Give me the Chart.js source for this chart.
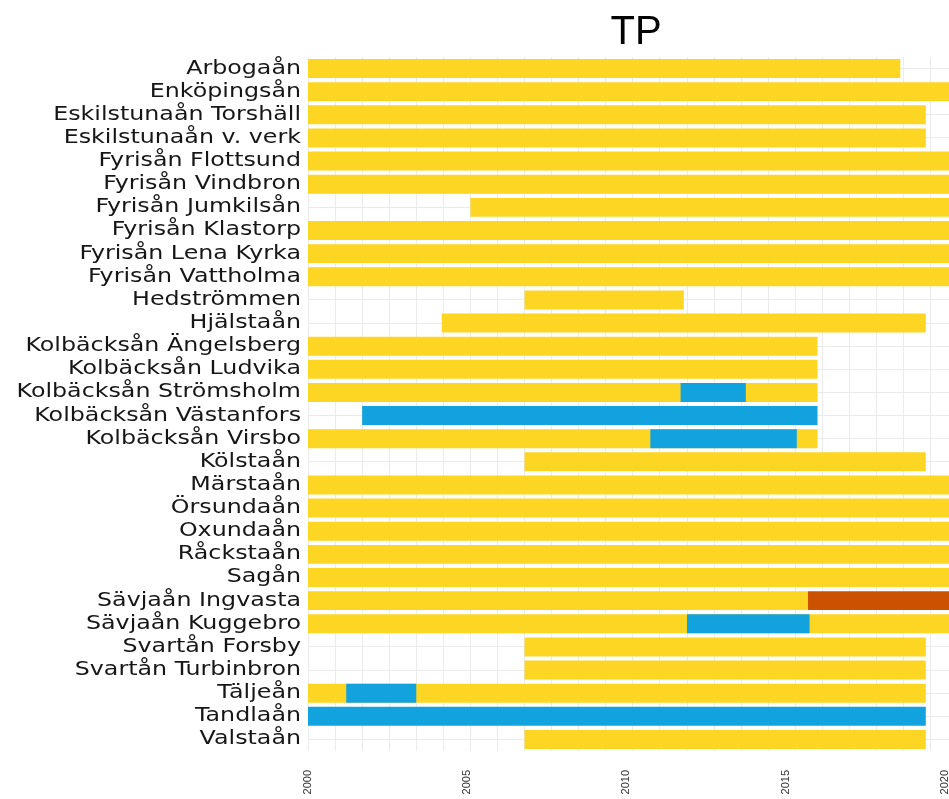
<!DOCTYPE html>
<html>
<head>
<meta charset="utf-8">
<script src="https://cdn.jsdelivr.net/npm/chart.js@4/dist/chart.umd.min.js"></script>
<style>
  html, body { margin: 0; padding: 0; background: #ffffff; overflow: hidden; }
  #wrap { width: 990px; height: 799px; }
</style>
</head>
<body>
<div id="wrap"><canvas id="c" width="990" height="799"></canvas></div>
<script>
// Monitoring stations (top to bottom)
const stations = [
  'Arbogaån', 'Enköpingsån', 'Eskilstunaån Torshäll', 'Eskilstunaån v. verk',
  'Fyrisån Flottsund', 'Fyrisån Vindbron', 'Fyrisån Jumkilsån', 'Fyrisån Klastorp',
  'Fyrisån Lena Kyrka', 'Fyrisån Vattholma', 'Hedströmmen', 'Hjälstaån',
  'Kolbäcksån Ängelsberg', 'Kolbäcksån Ludvika', 'Kolbäcksån Strömsholm',
  'Kolbäcksån Västanfors', 'Kolbäcksån Virsbo', 'Kölstaån', 'Märstaån',
  'Örsundaån', 'Oxundaån', 'Råckstaån', 'Sagån', 'Sävjaån Ingvasta',
  'Sävjaån Kuggebro', 'Svartån Forsby', 'Svartån Turbinbron', 'Täljeån',
  'Tandlaån', 'Valstaån'
];

// Yellow periods (start / end year, null = none)
const yellowStart = [2000, 2000, 2000, 2000, 2000, 2000, 2005.1, 2000, 2000, 2000,
  2006.8, 2004.2, 2000, 2000, 2000, null, 2000, 2006.8, 2000, 2000,
  2000, 2000, 2000, 2000, 2000, 2006.8, 2006.8, 2000, null, 2006.8];
const yellowEnd = [2018.6, 2020.6, 2019.4, 2019.4, 2020.6, 2020.6, 2020.6, 2020.6, 2020.6, 2020.6,
  2011.8, 2019.4, 2016, 2016, 2016, null, 2016, 2019.4, 2020.6, 2020.6,
  2020.6, 2020.6, 2020.6, 2015.7, 2020.6, 2019.4, 2019.4, 2019.4, null, 2019.4];

// Blue periods
const blueStart = [null, null, null, null, null, null, null, null, null, null,
  null, null, null, null, 2011.7, 2001.7, 2010.75, null, null, null,
  null, null, null, null, 2011.9, null, null, 2001.2, 2000, null];
const blueEnd = [null, null, null, null, null, null, null, null, null, null,
  null, null, null, null, 2013.75, 2016, 2015.35, null, null, null,
  null, null, null, null, 2015.75, null, null, 2003.4, 2019.4, null];

// Red periods
const redStart = [null, null, null, null, null, null, null, null, null, null,
  null, null, null, null, null, null, null, null, null, null,
  null, null, null, 2015.7, null, null, null, null, null, null];
const redEnd = [null, null, null, null, null, null, null, null, null, null,
  null, null, null, null, null, null, null, null, null, null,
  null, null, null, 2020.6, null, null, null, null, null, null];

// Axis range and labelled years
const yearMin = 2000;
const yearMax = 2020.6;
const yearTicks = [2000, 2005, 2010, 2015, 2020];

const COLORS = { yellow: '#FDD523', blue: '#12A3DF', red: '#CA5200' };

function ranges(starts, ends) {
  return starts.map((s, i) => (s === null ? null : [s, ends[i]]));
}

// Wide station names drawn at each category position
const stationLabels = {
  id: 'stationLabels',
  afterDraw(chart) {
    const ys = chart.scales.y;
    const ctx = chart.ctx;
    ctx.save();
    ctx.font = '19px "DejaVu Sans", Verdana, sans-serif';
    ctx.fillStyle = '#161616';
    ctx.textAlign = 'right';
    ctx.textBaseline = 'middle';
    stations.forEach((name, i) => {
      const y = ys.getPixelForValue(i);
      ctx.save();
      ctx.translate(chart.chartArea.left - 7, y);
      ctx.scale(1.25, 1);
      ctx.fillText(name, 0, 0);
      ctx.restore();
    });
    ctx.restore();
  }
};

const gridColor = '#EBEBEB';

new Chart(document.getElementById('c'), {
  type: 'bar',
  data: {
    labels: stations,
    datasets: [
      { label: 'blue', data: ranges(blueStart, blueEnd), backgroundColor: COLORS.blue, order: 1 },
      { label: 'red', data: ranges(redStart, redEnd), backgroundColor: COLORS.red, order: 1 },
      { label: 'yellow', data: ranges(yellowStart, yellowEnd), backgroundColor: COLORS.yellow, order: 2 }
    ]
  },
  options: {
    indexAxis: 'y',
    responsive: false,
    animation: false,
    devicePixelRatio: 1,
    grouped: false,
    barPercentage: 0.82,
    categoryPercentage: 1.0,
    layout: { padding: { left: 0, right: 26, top: 0, bottom: 4 } },
    plugins: {
      legend: { display: false },
      tooltip: { enabled: false },
      title: {
        display: true,
        text: 'TP',
        fullSize: false,
        color: '#000000',
        font: { family: '"Liberation Sans", Arial, sans-serif', size: 40, weight: 'normal', lineHeight: 1.2 },
        padding: { top: 9, bottom: 0 }
      }
    },
    scales: {
      x: {
        type: 'linear',
        position: 'bottom',
        min: yearMin,
        max: yearMax,
        afterBuildTicks(scale) {
          scale.ticks = yearTicks.map(v => ({ value: v }));
        },
        afterFit(scale) { scale.height = 44; },
        ticks: {
          minRotation: 90,
          maxRotation: 90,
          padding: 19,
          color: '#333333',
          font: { family: '"Liberation Sans", Arial, sans-serif', size: 11 },
          callback: v => String(v)
        },
        grid: { display: false, drawTicks: false },
        border: { display: false }
      },
      gridX: {
        type: 'linear',
        position: 'bottom',
        min: 0,
        max: 24.23,
        ticks: { display: false, stepSize: 1, includeBounds: false },
        grid: { color: gridColor, lineWidth: 1, drawTicks: false },
        border: { display: false }
      },
      y: {
        type: 'category',
        ticks: { display: false },
        afterFit(scale) { scale.width = 308; },
        grid: { color: gridColor, lineWidth: 1, offset: false, drawTicks: false },
        border: { display: false }
      }
    }
  },
  plugins: [stationLabels]
});
</script>
</body>
</html>
